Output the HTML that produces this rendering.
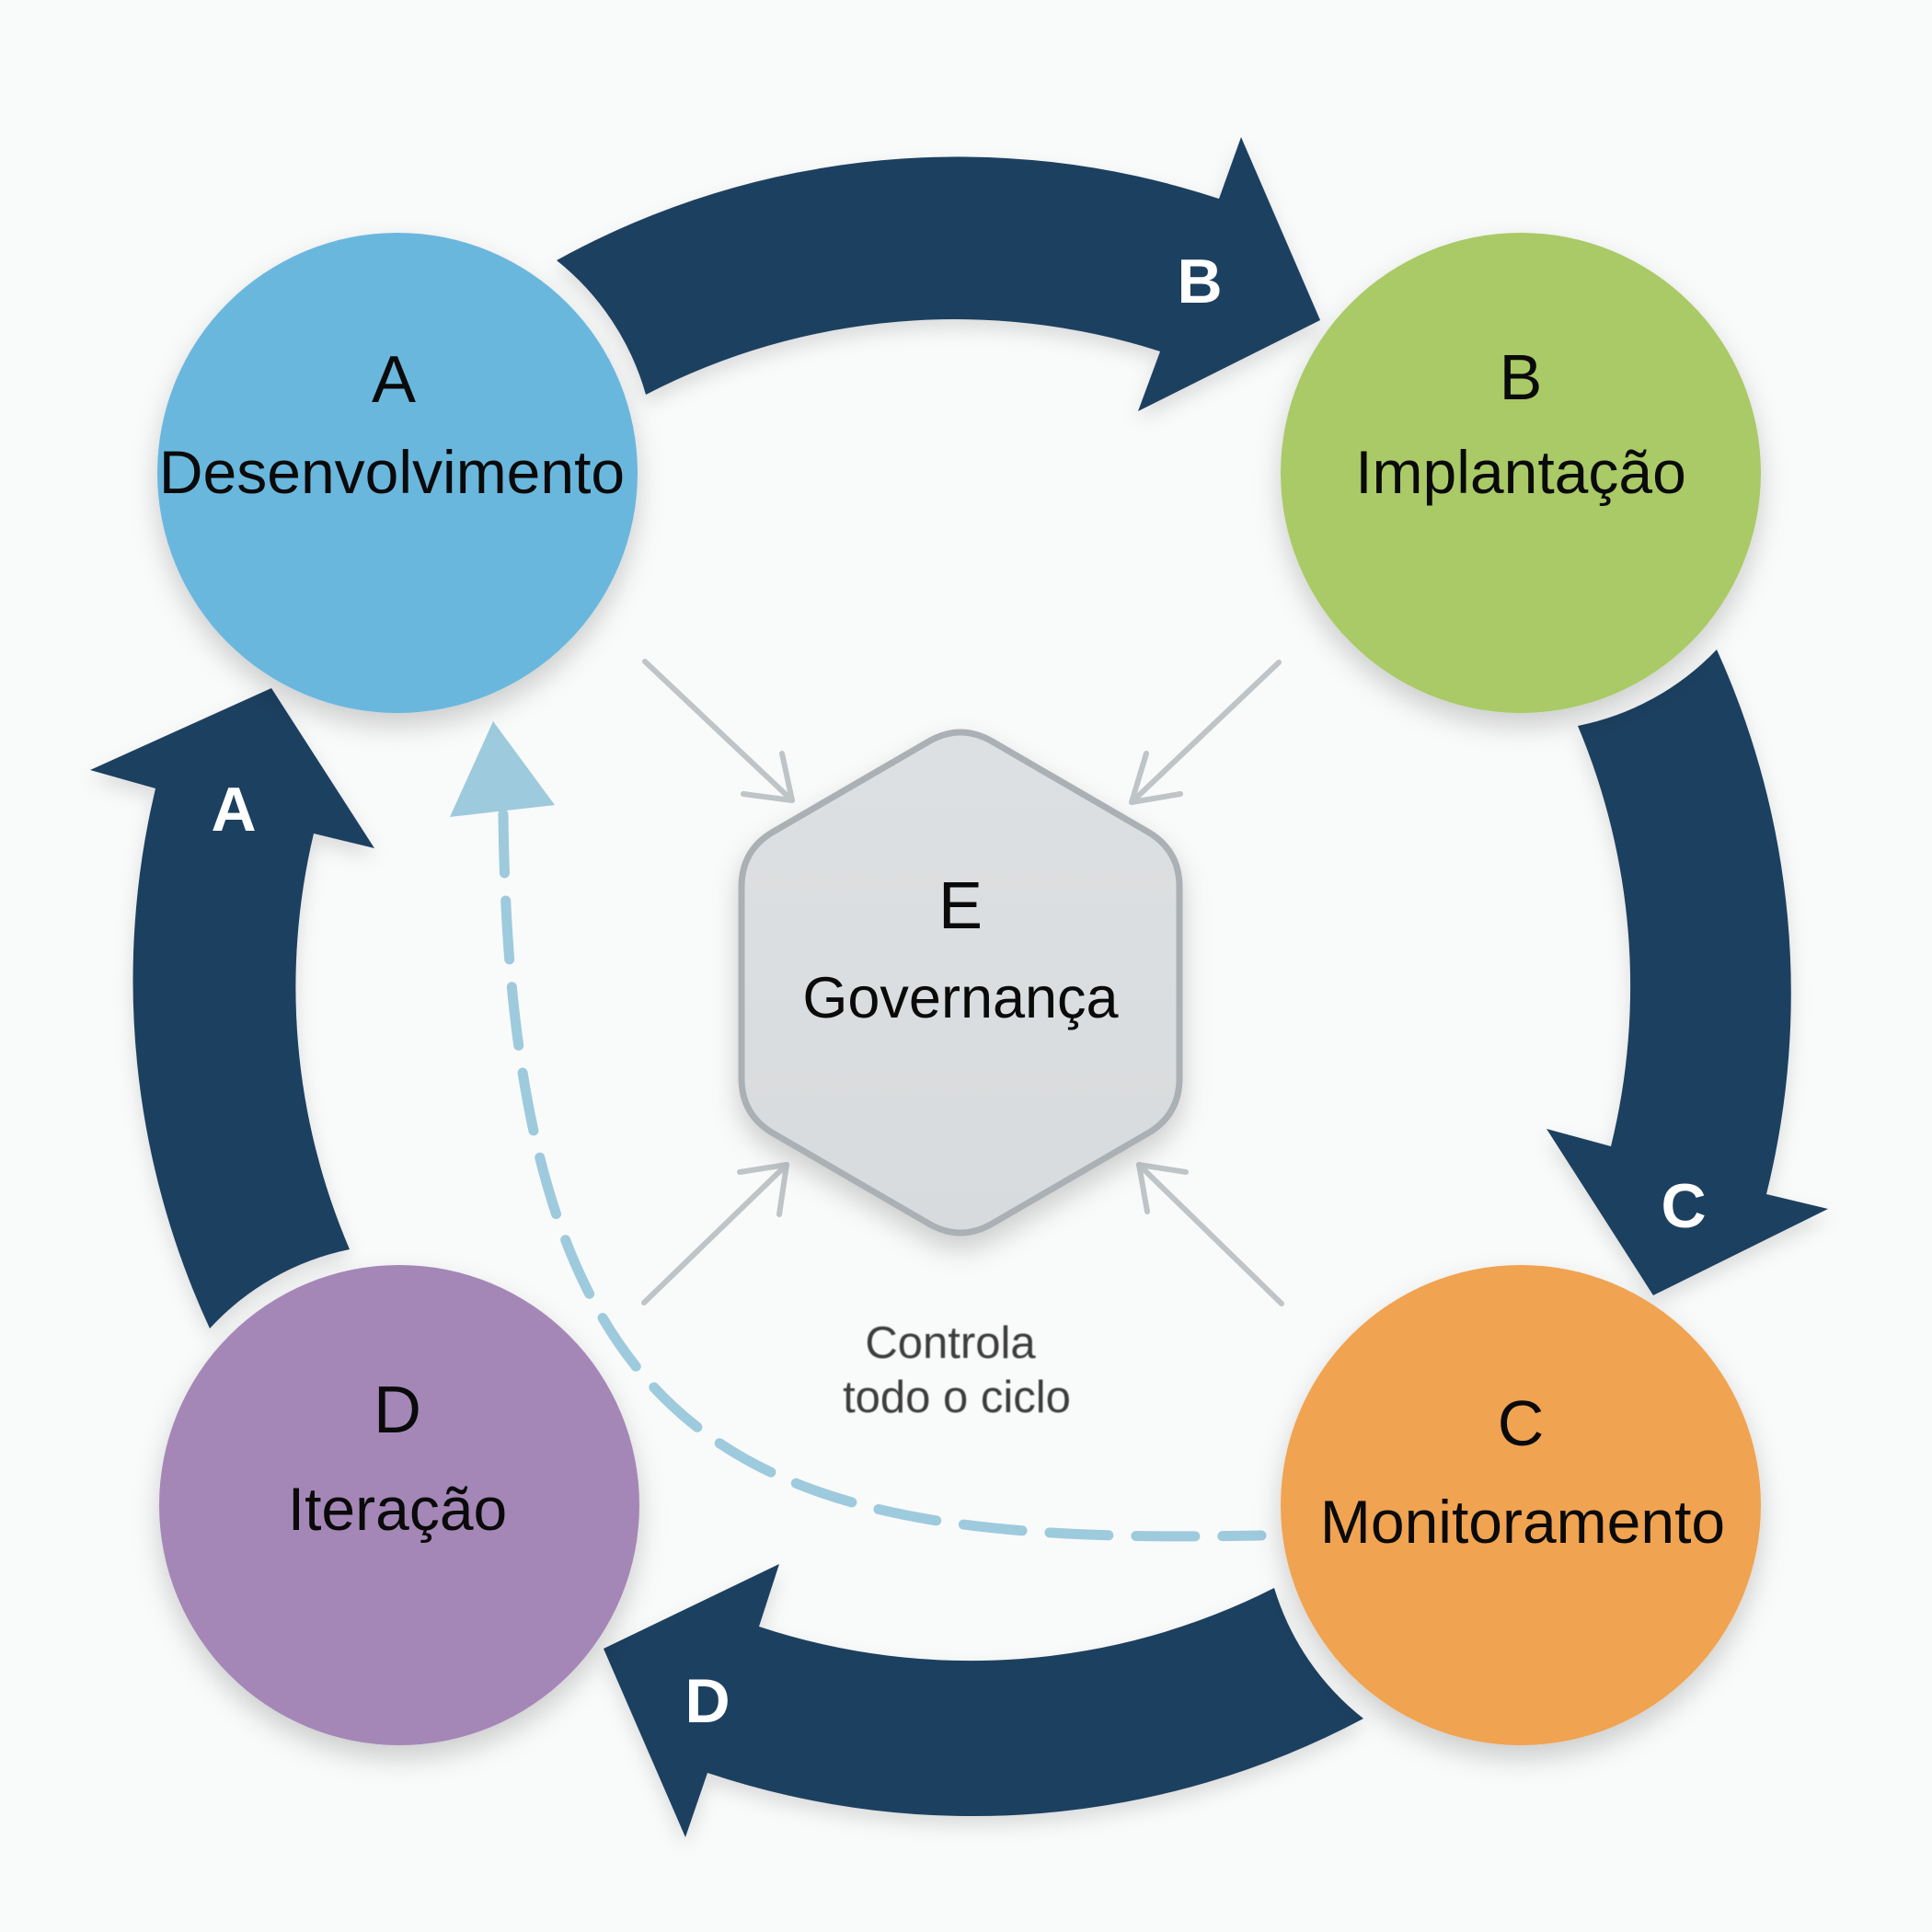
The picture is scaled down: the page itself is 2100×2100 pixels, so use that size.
<!DOCTYPE html>
<html>
<head>
<meta charset="utf-8">
<style>
  html, body { margin:0; padding:0; background:#f9fafa; }
  svg { display:block; }
  text { font-family: "Liberation Sans", "DejaVu Sans", sans-serif; }
</style>
</head>
<body>
<svg width="2100" height="2100" viewBox="0 0 2100 2100" xmlns="http://www.w3.org/2000/svg">
  <defs>
    <filter id="sh" x="-20%" y="-20%" width="140%" height="150%">
      <feDropShadow dx="0" dy="14" stdDeviation="14" flood-color="#000" flood-opacity="0.18"/>
    </filter>
    <filter id="sha" x="-20%" y="-20%" width="140%" height="150%">
      <feDropShadow dx="0" dy="10" stdDeviation="10" flood-color="#000" flood-opacity="0.12"/>
    </filter>
    <filter id="blur1"><feGaussianBlur stdDeviation="0.6"/></filter>
    <linearGradient id="hexg" x1="0" y1="0" x2="0" y2="1">
      <stop offset="0" stop-color="#dde0e2"/>
      <stop offset="1" stop-color="#d8dbdd"/>
    </linearGradient>
  </defs>

  <rect width="2100" height="2100" fill="#f9fafa"/>

  <!-- Big navy arrows -->
  <g fill="#1f4061" filter="url(#sha)">
    <path d="M 605 283 A 903 903 0 0 1 1325 216 L 1349 149 L 1435 348 L 1237 447 L 1261 382 A 729 729 0 0 0 702 429 A 285 285 0 0 0 605 283 Z"/>
    <path d="M 1866 706 A 904 904 0 0 1 1920 1298 L 1987 1314 L 1797 1408 L 1681 1227 L 1751 1246 A 729 729 0 0 0 1715 789 A 285 285 0 0 0 1866 706 Z"/>
    <path d="M 1482 1868 A 905 905 0 0 1 769 1927 L 745 1997 L 656 1792 L 847 1700 L 825 1768 A 729 729 0 0 0 1385 1726 A 285 285 0 0 0 1482 1868 Z"/>
    <path d="M 228 1444 A 900 900 0 0 1 169 857 L 98 837 L 295 748 L 407 922 L 341 906 A 722 722 0 0 0 380 1358 A 283 283 0 0 0 228 1444 Z"/>
  </g>

  <!-- Arrow labels -->
  <g fill="#ffffff" font-weight="bold" font-size="68" text-anchor="middle">
    <text x="1304" y="329">B</text>
    <text x="1830" y="1334">C</text>
    <text x="769" y="1872">D</text>
    <text x="254" y="903">A</text>
  </g>

  <!-- Gray connector arrows to hexagon -->
  <g stroke="#bfc4c7" stroke-width="6" fill="none" stroke-linecap="round" stroke-linejoin="round">
    <line x1="701" y1="719" x2="861" y2="870"/>
    <polyline points="850,819 861,870 808,863"/>
    <line x1="1390" y1="720" x2="1230" y2="872"/>
    <polyline points="1246,819 1230,872 1283,863"/>
    <line x1="700" y1="1416" x2="855" y2="1266"/>
    <polyline points="804,1274 855,1266 847,1320"/>
    <line x1="1393" y1="1417" x2="1238" y2="1266"/>
    <polyline points="1289,1274 1238,1266 1247,1317"/>
  </g>

  <!-- Hexagon E -->
  <path filter="url(#sh)" d="M 1009.4 806 Q 1044 786 1078.6 806 L 1247.4 904 Q 1282 924 1282 964 L 1282 1172 Q 1282 1212 1247.4 1232 L 1078.6 1330 Q 1044 1350 1009.4 1330 L 840.6 1232 Q 806 1212 806 1172 L 806 964 Q 806 924 840.6 904 Z"
        fill="url(#hexg)" stroke="#abb0b4" stroke-width="7"/>
  <g fill="#0a0a0a" text-anchor="middle">
    <text x="1044" y="1009" font-size="72">E</text>
    <text x="1044" y="1106" font-size="63">Governança</text>
  </g>

  <!-- Controla todo o ciclo -->
  <g fill="#3c3c3c" font-size="49" text-anchor="middle" filter="url(#blur1)">
    <text x="1033" y="1476">Controla</text>
    <text x="1040" y="1535">todo o ciclo</text>
  </g>

  <!-- Dashed feedback line -->
  <path d="M 547 885 C 555 1600, 820 1680, 1371 1669" fill="none" stroke="#9ecadd" stroke-width="11" stroke-linecap="round" stroke-dasharray="64 30"/>
  <polygon points="536,784 603,875 489,888" fill="#9ecadd"/>

  <!-- Circles -->
  <g filter="url(#sh)">
    <circle cx="432" cy="514" r="261" fill="#6ab7de"/>
    <circle cx="1653" cy="514" r="261" fill="#a9ca66"/>
    <circle cx="1653" cy="1636" r="261" fill="#f0a351"/>
    <circle cx="434" cy="1636" r="261" fill="#a487b6"/>
  </g>

  <!-- Circle labels -->
  <g fill="#0a0a0a" text-anchor="middle">
    <text x="428" y="437" font-size="72">A</text>
    <text x="426" y="536" font-size="66">Desenvolvimento</text>

    <text x="1653" y="434" font-size="70">B</text>
    <text x="1653" y="536" font-size="66">Implantação</text>

    <text x="1653" y="1571" font-size="70">C</text>
    <text x="1655" y="1677" font-size="66">Monitoramento</text>

    <text x="432" y="1557" font-size="72">D</text>
    <text x="432" y="1663" font-size="66">Iteração</text>
  </g>
</svg>
</body>
</html>
